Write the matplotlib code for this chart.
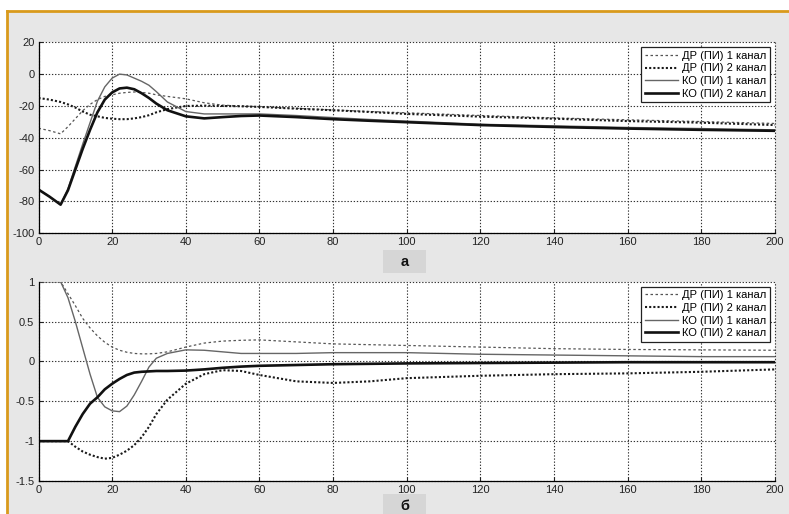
import matplotlib.pyplot as plt
from matplotlib.patches import Rectangle
from matplotlib.lines import Line2D

plt.rcParams['font.family'] = ['Liberation Sans', 'DejaVu Sans']

# time points (shared by both panels)
t = [0, 3, 6, 8, 10, 12, 14, 16, 18, 20, 22, 24, 26, 28, 30, 32, 35, 40, 45, 50,
     55, 60, 70, 80, 90, 100, 120, 140, 160, 180, 200]

# panel а
dr1_a = [-34, -35.5, -37.5, -33, -28, -23, -19, -16, -14, -13, -12, -11.5, -11.2, -11.5, -12, -13,
         -14, -15.5, -18, -19.5, -20, -20.5, -21.5, -22.5, -23.5, -24.3, -26, -27.5, -28.7, -29.8, -31]
dr2_a = [-15, -16, -17.5, -19, -21, -23.5, -25.5, -26.5, -27.5, -28, -28.3, -28.3, -27.8, -27, -25.8, -24,
         -22, -20, -19.8, -20, -20.2, -20.6, -21.7, -22.7, -23.8, -25, -26.7, -28, -29.5, -30.5, -32]
ko1_a = [-72.5, -77, -82, -72, -58, -44, -30.5, -17, -8, -2.5, 0, -0.5, -2.5, -4.5, -7, -11,
         -17.5, -23.5, -25, -25, -25, -25, -26, -27.3, -28.5, -29.5, -31.5, -32.5, -33.5, -34.2, -35]
ko2_a = [-72.5, -77, -82, -73, -60, -47, -35, -24, -16, -11.5, -9, -8.5, -9.5, -12, -15, -18.5,
         -22.7, -26.5, -27.8, -27, -26.3, -26, -27, -28.3, -29.3, -30.2, -32, -33.2, -34.2, -35, -35.6]

# panel б
dr1_b = [1, 1, 1, 0.85, 0.7, 0.54, 0.42, 0.32, 0.24, 0.18, 0.14, 0.115, 0.1, 0.095, 0.095, 0.1,
         0.12, 0.18, 0.23, 0.255, 0.265, 0.27, 0.245, 0.22, 0.21, 0.2, 0.18, 0.16, 0.15, 0.145, 0.14]
dr2_b = [-1, -1, -1, -1, -1.07, -1.13, -1.17, -1.2, -1.22, -1.21, -1.17, -1.12, -1.05, -0.95, -0.82, -0.66,
         -0.48, -0.28, -0.16, -0.11, -0.12, -0.17, -0.25, -0.27, -0.25, -0.21, -0.18, -0.16, -0.15, -0.13, -0.1]
ko1_b = [1, 1, 1, 0.8, 0.5, 0.17, -0.16, -0.45, -0.57, -0.62, -0.63, -0.56, -0.42, -0.25, -0.07, 0.04,
         0.1, 0.145, 0.14, 0.12, 0.1, 0.1, 0.1, 0.11, 0.11, 0.11, 0.09, 0.08, 0.07, 0.06, 0.06]
ko2_b = [-1, -1, -1, -1, -0.82, -0.66, -0.53, -0.45, -0.35, -0.28, -0.22, -0.17, -0.14, -0.13, -0.125, -0.12,
         -0.12, -0.115, -0.1, -0.08, -0.065, -0.055, -0.045, -0.035, -0.03, -0.025, -0.02, -0.015, -0.01, -0.01, -0.01]

labels = ['ДР (ПИ) 1 канал', 'ДР (ПИ) 2 канал', 'КО (ПИ) 1 канал', 'КО (ПИ) 2 канал']

W, H = 789, 514
fig = plt.figure(figsize=(W / 100, H / 100), dpi=100)
fig.patch.set_facecolor('white')

# grey window with orange frame on top and left
fig.patches.append(Rectangle((7 / W, 0), 1, 1 - 11 / H, transform=fig.transFigure,
                             facecolor='#e7e7e7', edgecolor='none', zorder=-10))
fig.lines.append(Line2D([6.5 / W, 1], [1 - 10.5 / H, 1 - 10.5 / H], transform=fig.transFigure,
                        color='#d99a1c', lw=2, zorder=-9))
fig.lines.append(Line2D([6.5 / W, 6.5 / W], [0, 1 - 10.5 / H], transform=fig.transFigure,
                        color='#d99a1c', lw=2, zorder=-9))


def px_axes(left, top, right, bottom):
    return fig.add_axes([left / W, 1 - bottom / H, (right - left) / W, (bottom - top) / H])


def style(ax, ylim, yticks):
    ax.set_xlim(0, 200)
    ax.set_ylim(*ylim)
    ax.set_xticks(range(0, 201, 20))
    ax.set_yticks(yticks)
    ax.set_yticklabels([('%g' % v) for v in yticks])
    ax.spines['top'].set_visible(False)
    ax.spines['right'].set_visible(False)
    ax.spines['left'].set_linewidth(0.9)
    ax.spines['bottom'].set_linewidth(0.9)
    ax.tick_params(direction='in', length=3, labelsize=8, pad=3, colors='#222')
    ax.grid(True, linestyle=(0, (1.2, 1.6)), color='#333', linewidth=0.8)
    ax.set_axisbelow(True)
    for gl in ax.get_xgridlines() + ax.get_ygridlines():
        gl.set_clip_on(False)
    ax.set_facecolor('white')


def draw(ax, d1, d2, k1, k2):
    ax.plot(t, d1, linestyle=(0, (2, 2)), color='#555555', lw=0.9, label=labels[0])
    ax.plot(t, d2, linestyle=(0, (1, 1)), color='#1a1a1a', lw=1.5, label=labels[1])
    ax.plot(t, k1, linestyle='-', color='#666666', lw=1.0, label=labels[2])
    ax.plot(t, k2, linestyle='-', color='#111111', lw=1.9, label=labels[3])
    leg = ax.legend(loc='upper right', fontsize=8, fancybox=False, framealpha=1,
                    edgecolor='#222', handlelength=3.0, handletextpad=0.4,
                    borderpad=0.3, labelspacing=0.25, borderaxespad=0.45)
    leg.get_frame().set_linewidth(0.9)


ax1 = px_axes(38.5, 42.3, 775, 233.3)
draw(ax1, dr1_a, dr2_a, ko1_a, ko2_a)
style(ax1, (-100, 20), [-100, -80, -60, -40, -20, 0, 20])

ax2 = px_axes(38.5, 281.7, 775, 481)
draw(ax2, dr1_b, dr2_b, ko1_b, ko2_b)
style(ax2, (-1.5, 1), [-1.5, -1, -0.5, 0, 0.5, 1])

# panel captions
for y0, txt in [(250, 'а'), (494, 'б')]:
    fig.patches.append(Rectangle((383 / W, 1 - (y0 + 23) / H), 43 / W, 23 / H,
                                 transform=fig.transFigure, facecolor='#d6d6d6',
                                 edgecolor='none', zorder=-8))
    fig.text(404.5 / W, 1 - (y0 + 11.5) / H, txt, ha='center', va='center',
             fontsize=10.5, fontweight='bold', color='#111')

fig.savefig('out.png', dpi=100)
